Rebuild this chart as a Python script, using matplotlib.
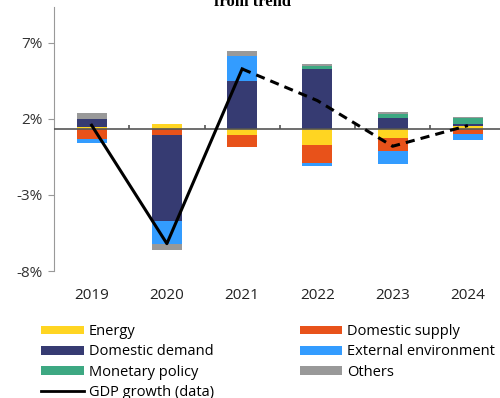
import matplotlib
matplotlib.use("Agg")
import matplotlib.pyplot as plt
from matplotlib.patches import Patch
from matplotlib.lines import Line2D
import numpy as np

plt.rcParams['font.family'] = ['Open Sans', 'DejaVu Sans']

# data (percentage points, deviation from trend)
years = ['2019', '2020', '2021', '2022', '2023', '2024']
trend = 1.32
energy = [0.15, 0.35, -0.37, -1.03, -0.55, 0.20]
domestic_supply = [-0.66, -0.39, -0.83, -1.16, -0.87, -0.29]
domestic_demand = [0.54, -5.62, 3.17, 3.96, 0.76, 0.13]
external_env = [-0.22, -1.51, 1.66, -0.26, -0.87, -0.41]
monetary_policy = [0.0, 0.0, 0.0, 0.17, 0.22, 0.42]
others = [0.35, -0.39, 0.31, 0.15, 0.17, 0.05]
gdp_growth = [1.58, -6.2, 5.28, 3.2, 0.2, 1.56]

series = [
    ('Energy', energy, '#FFD522'),
    ('Domestic supply', domestic_supply, '#E8521A'),
    ('Domestic demand', domestic_demand, '#363B72'),
    ('External environment', external_env, '#339CFF'),
    ('Monetary policy', monetary_policy, '#3DA882'),
    ('Others', others, '#999999'),
]

fig = plt.figure(figsize=(5.0, 3.98), dpi=100)
ax = fig.add_axes([0.108, 0.319, 0.903, 0.663])

x = np.arange(len(years))
pos_base = np.full(len(years), trend)
neg_base = np.full(len(years), trend)
for name, vals, color in series:
    v = np.array(vals)
    bottoms = np.where(v >= 0, pos_base, neg_base)
    ax.bar(x, v, 0.4, bottom=bottoms, color=color, edgecolor='none', zorder=2)
    pos_base = pos_base + np.where(v > 0, v, 0)
    neg_base = neg_base + np.where(v < 0, v, 0)

# GDP line: solid for data, dashed for forecast
ax.plot(x[:3], gdp_growth[:3], color='black', lw=2.2, zorder=4)
ax.plot(x[2:], gdp_growth[2:], color='black', lw=2.2, ls=(0, (3, 2)), zorder=4)

# baseline with category separators
ax.axhline(trend, color='#555555', lw=1.2, zorder=3)
ax.vlines(x[:-1] + 0.5, trend, trend + 0.28, color='#555555', lw=1.2, zorder=3)

ax.set_xlim(-0.5, len(years) - 0.5)
ax.set_ylim(-8, 9.34)
ax.set_yticks([-8, -3, 2, 7])
ax.set_yticklabels(['-8%', '-3%', '2%', '7%'], fontsize=11, color='#333333')
ax.set_xticks(x)
ax.set_xticklabels(years, fontsize=11, color='#222222')
ax.tick_params(axis='x', length=0, pad=12)
ax.tick_params(axis='y', length=4, color='#999999', pad=4)

for s in ['top', 'right', 'bottom']:
    ax.spines[s].set_visible(False)
ax.spines['left'].set_color('#999999')

fig.text(0.505, 1 - 6.5 / 398, 'from trend', ha='center', va='baseline',
         fontsize=12, fontweight='bold', family='Liberation Serif')

h = {name: Patch(facecolor=color) for name, _, color in series}
gdp_handle = Line2D([], [], color='black', lw=2)
handles = [h['Energy'], h['Domestic demand'], h['Monetary policy'], gdp_handle,
           h['Domestic supply'], h['External environment'], h['Others']]
labels = ['Energy', 'Domestic demand', 'Monetary policy', 'GDP growth (data)',
          'Domestic supply', 'External environment', 'Others']
fig.legend(handles, labels, ncol=2, loc='upper left', bbox_to_anchor=(0.068, 0.204),
           frameon=False, fontsize=10.5, handlelength=2.9, handleheight=0.55,
           handletextpad=0.35, labelspacing=0.36, columnspacing=5.9, borderpad=0)

fig.savefig('out.png', dpi=100)
